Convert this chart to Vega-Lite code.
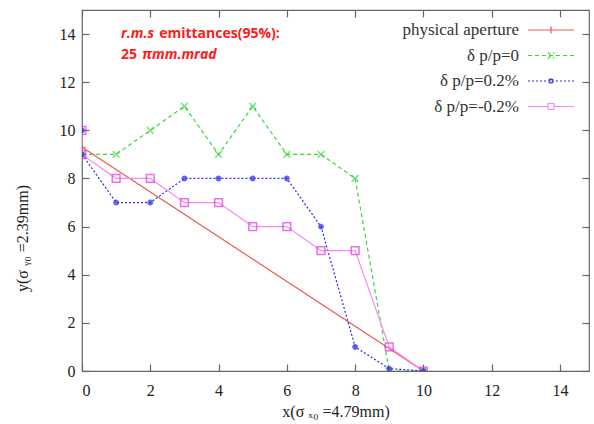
{
  "$schema": "https://vega.github.io/schema/vega-lite/v6.json",
  "width": 507,
  "height": 361,
  "autosize": "none",
  "padding": {"left": 82, "top": 10, "right": 5, "bottom": 53},
  "background": "white",
  "config": {
    "view": {"stroke": "#666", "strokeWidth": 1.2},
    "font": "Liberation Serif",
    "axis": {"labelFont": "Liberation Serif", "titleFont": "Liberation Serif", "labelFontSize": 16, "titleFontSize": 16, "labelColor": "#222", "titleColor": "#222", "titleFontWeight": "normal", "domain": false, "grid": false, "tickColor": "#666", "tickSize": -7, "tickWidth": 1.2}
  },
  "datasets": {
    "curves": [
      {"series": "physical aperture", "i": 0, "x": 0, "y": 9.3},
      {"series": "physical aperture", "i": 1, "x": 10, "y": 0},
      {"series": "δ p/p=0", "i": 0, "x": 0, "y": 9},
      {"series": "δ p/p=0", "i": 1, "x": 1, "y": 9},
      {"series": "δ p/p=0", "i": 2, "x": 2, "y": 10},
      {"series": "δ p/p=0", "i": 3, "x": 3, "y": 11},
      {"series": "δ p/p=0", "i": 4, "x": 4, "y": 9},
      {"series": "δ p/p=0", "i": 5, "x": 5, "y": 11},
      {"series": "δ p/p=0", "i": 6, "x": 6, "y": 9},
      {"series": "δ p/p=0", "i": 7, "x": 7, "y": 9},
      {"series": "δ p/p=0", "i": 8, "x": 8, "y": 8},
      {"series": "δ p/p=0", "i": 9, "x": 9, "y": 0},
      {"series": "δ p/p=0", "i": 10, "x": 10, "y": 0},
      {"series": "δ p/p=0.2%", "i": 0, "x": 0, "y": 10},
      {"series": "δ p/p=0.2%", "i": 1, "x": 0, "y": 9},
      {"series": "δ p/p=0.2%", "i": 2, "x": 1, "y": 7},
      {"series": "δ p/p=0.2%", "i": 3, "x": 2, "y": 7},
      {"series": "δ p/p=0.2%", "i": 4, "x": 3, "y": 8},
      {"series": "δ p/p=0.2%", "i": 5, "x": 4, "y": 8},
      {"series": "δ p/p=0.2%", "i": 6, "x": 5, "y": 8},
      {"series": "δ p/p=0.2%", "i": 7, "x": 6, "y": 8},
      {"series": "δ p/p=0.2%", "i": 8, "x": 7, "y": 6},
      {"series": "δ p/p=0.2%", "i": 9, "x": 8, "y": 1},
      {"series": "δ p/p=0.2%", "i": 10, "x": 9, "y": 0.1},
      {"series": "δ p/p=0.2%", "i": 11, "x": 10, "y": 0},
      {"series": "δ p/p=-0.2%", "i": 0, "x": 0, "y": 10},
      {"series": "δ p/p=-0.2%", "i": 1, "x": 0, "y": 9},
      {"series": "δ p/p=-0.2%", "i": 2, "x": 1, "y": 8},
      {"series": "δ p/p=-0.2%", "i": 3, "x": 2, "y": 8},
      {"series": "δ p/p=-0.2%", "i": 4, "x": 3, "y": 7},
      {"series": "δ p/p=-0.2%", "i": 5, "x": 4, "y": 7},
      {"series": "δ p/p=-0.2%", "i": 6, "x": 5, "y": 6},
      {"series": "δ p/p=-0.2%", "i": 7, "x": 6, "y": 6},
      {"series": "δ p/p=-0.2%", "i": 8, "x": 7, "y": 5},
      {"series": "δ p/p=-0.2%", "i": 9, "x": 8, "y": 5},
      {"series": "δ p/p=-0.2%", "i": 10, "x": 9, "y": 1},
      {"series": "δ p/p=-0.2%", "i": 11, "x": 10, "y": 0}
    ],
    "notes": [
      {"x": 1.14, "y": 14.0, "text": "r.m.s", "italic": true},
      {"x": 2.26, "y": 14.0, "text": "emittances(95%):", "italic": false},
      {"x": 1.14, "y": 13.15, "text": "25", "italic": false},
      {"x": 1.76, "y": 13.15, "text": "πmm.mrad", "italic": true}
    ]
  },
  "resolve": {"axis": {"x": "independent", "y": "independent"}},
  "layer": [
    {
      "data": {"name": "curves"},
      "mark": {"type": "line", "strokeWidth": 1.2, "clip": true},
      "encoding": {
        "x": {"field": "x", "type": "quantitative", "scale": {"domain": [0, 14.85], "nice": false, "zero": false}, "axis": {"title": "x(σ ₓ₀ =4.79mm)", "labelFont": "Liberation Serif", "titleFont": "Liberation Serif", "values": [0, 2, 4, 6, 8, 10, 12, 14], "labelPadding": 18, "titleY": 40, "titleBaseline": "middle"}},
        "y": {"field": "y", "type": "quantitative", "scale": {"domain": [0, 15], "nice": false}, "axis": {"title": "y(σ ᵧ₀ =2.39mm)", "labelFont": "Liberation Serif", "titleFont": "Liberation Serif", "values": [0, 2, 4, 6, 8, 10, 12, 14], "labelPadding": 14, "titleX": -60, "titleY": 228, "titleAngle": 270, "titleAlign": "center", "titleBaseline": "middle"}},
        "order": {"field": "i", "type": "quantitative"},
        "color": {
          "field": "series", "type": "nominal",
          "scale": {"domain": ["physical aperture", "δ p/p=0", "δ p/p=0.2%", "δ p/p=-0.2%"], "range": ["#f25555", "#3fd43f", "#2a2ae8", "#f58af5"]},
          "legend": {
            "title": null, "orient": "none", "legendX": 458, "legendY": 9, "padding": 0,
            "labelFont": "Liberation Serif", "labelFontSize": 17, "labelColor": "#333",
            "labelAlign": "right", "labelOffset": -43, "labelLimit": 300,
            "symbolSize": 400, "symbolStrokeWidth": 1.2, "rowPadding": 6.5,
            "encode": {"symbols": {"update": {
              "shape": {"signal": "datum.value === 'physical aperture' ? 'M-2.3,0L2.3,0M0,-0.35L0,0.35' : datum.value === 'δ p/p=0' ? 'M-2.3,0L2.3,0M-0.3,-0.3L0.3,0.3M-0.3,0.3L0.3,-0.3' : datum.value === 'δ p/p=0.2%' ? 'M-2.3,0L2.3,0M-0.22,-0.22L0.22,0.22M-0.22,0.22L0.22,-0.22M0,-0.28L0,0.28M-0.28,0L0.28,0' : 'M-2.3,0L-0.3,0M0.3,0L2.3,0M-0.3,-0.3L0.3,-0.3L0.3,0.3L-0.3,0.3Z'"},
              "strokeDash": {"signal": "datum.value === 'δ p/p=0' ? [4,3] : datum.value === 'δ p/p=0.2%' ? [2,2] : [1,0]"},
              "fill": {"value": "transparent"},
              "size": {"value": 400}
            }}}
          }
        },
        "strokeDash": {"field": "series", "type": "nominal", "scale": {"domain": ["physical aperture", "δ p/p=0", "δ p/p=0.2%", "δ p/p=-0.2%"], "range": [[1, 0], [4, 3], [2, 2], [1, 0]]}, "legend": null}
      }
    },
    {
      "data": {"name": "curves"},
      "transform": [{"filter": "datum.series === 'physical aperture'"}],
      "mark": {"type": "point", "filled": false, "strokeWidth": 1.5, "size": 50, "clip": true, "shape": "M-1,0L1,0M0,-1L0,1"},
      "encoding": {
        "x": {"field": "x", "type": "quantitative", "axis": null},
        "y": {"field": "y", "type": "quantitative", "axis": null},
        "color": {"field": "series", "type": "nominal", "legend": null}
      }
    },
    {
      "data": {"name": "curves"},
      "transform": [{"filter": "datum.series === 'δ p/p=0'"}],
      "mark": {"type": "point", "filled": false, "strokeWidth": 1.5, "size": 45, "clip": true, "shape": "M-1,-1L1,1M-1,1L1,-1"},
      "encoding": {
        "x": {"field": "x", "type": "quantitative", "axis": null},
        "y": {"field": "y", "type": "quantitative", "axis": null},
        "color": {"field": "series", "type": "nominal", "legend": null}
      }
    },
    {
      "data": {"name": "curves"},
      "transform": [{"filter": "datum.series === 'δ p/p=0.2%'"}],
      "mark": {"type": "point", "filled": false, "strokeWidth": 1.8, "size": 35, "clip": true, "shape": "M-1,0L1,0M0,-1L0,1M-0.7,-0.7L0.7,0.7M-0.7,0.7L0.7,-0.7"},
      "encoding": {
        "x": {"field": "x", "type": "quantitative", "axis": null},
        "y": {"field": "y", "type": "quantitative", "axis": null},
        "color": {"field": "series", "type": "nominal", "legend": null}
      }
    },
    {
      "data": {"name": "curves"},
      "transform": [{"filter": "datum.series === 'δ p/p=-0.2%'"}],
      "mark": {"type": "point", "filled": false, "strokeWidth": 1.5, "size": 60, "clip": true, "shape": "square", "stroke": "#e830e8"},
      "encoding": {
        "x": {"field": "x", "type": "quantitative", "axis": null},
        "y": {"field": "y", "type": "quantitative", "axis": null}
      }
    },
    {
      "data": {"name": "notes"},
      "transform": [{"filter": "datum.italic"}],
      "mark": {"type": "text", "font": "Open Sans", "fontSize": 14, "fontWeight": "bold", "fontStyle": "italic", "align": "left", "baseline": "middle", "color": "#ff1a1a"},
      "encoding": {
        "x": {"field": "x", "type": "quantitative", "axis": null},
        "y": {"field": "y", "type": "quantitative", "axis": null},
        "text": {"field": "text"}
      }
    },
    {
      "data": {"name": "notes"},
      "transform": [{"filter": "!datum.italic"}],
      "mark": {"type": "text", "font": "Open Sans", "fontSize": 14, "fontWeight": "bold", "align": "left", "baseline": "middle", "color": "#ff1a1a"},
      "encoding": {
        "x": {"field": "x", "type": "quantitative", "axis": null},
        "y": {"field": "y", "type": "quantitative", "axis": null},
        "text": {"field": "text"}
      }
    },
    {
      "data": {"name": "curves"},
      "mark": {"type": "point", "opacity": 0},
      "encoding": {
        "x": {"field": "x", "type": "quantitative", "axis": {"orient": "top", "labels": false, "title": null, "values": [0, 2, 4, 6, 8, 10, 12, 14]}},
        "y": {"field": "y", "type": "quantitative", "axis": {"orient": "right", "labels": false, "title": null, "values": [0, 2, 4, 6, 8, 10, 12, 14]}}
      }
    }
  ]
}
